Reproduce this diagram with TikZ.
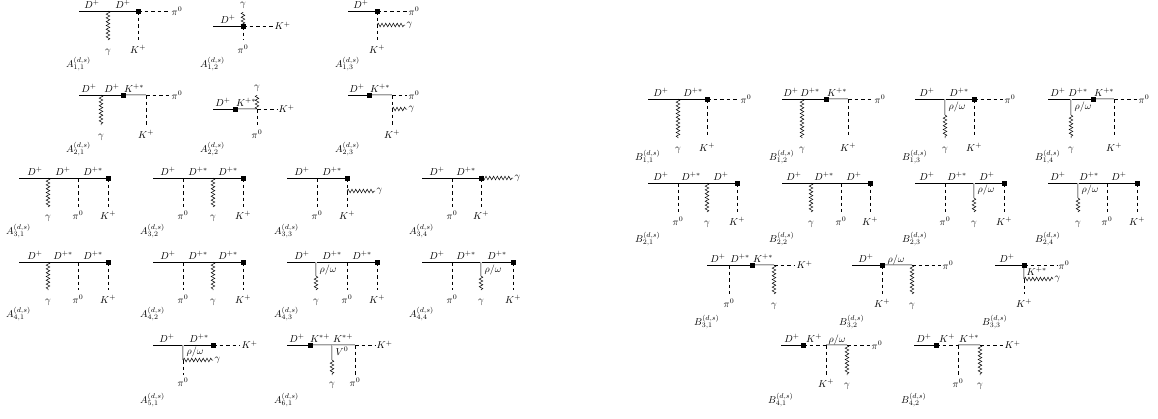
\documentclass[tikz,border=0pt]{standalone}
\usetikzlibrary{decorations.pathmorphing}
\begin{document}
\begin{tikzpicture}[x=1pt,y=-1pt,
fer/.style={line width=0.7pt},
vec/.style={draw=gray!75,double=gray!30,double distance=0.5pt,line width=0.45pt},
sca/.style={line width=0.6pt,dash pattern=on 3.5pt off 3pt},
pho/.style={line width=0.5pt,decorate,decoration={snake,amplitude=1.8pt,segment length=3.8pt}},
vtx/.style={rectangle,fill=black,inner sep=0pt,minimum size=5pt},
lab/.style={inner sep=1.5pt},
ttl/.style={inner sep=0pt,anchor=west}]
\useasboundingbox (0,0) rectangle (1158,418);

% A_{1,1}
\path (79,11) coordinate (a11s) (108,11) coordinate (a11p) (138,11) coordinate (a11w) (170,11) coordinate (a11e) (108,40) coordinate (a11g) (138,40) coordinate (a11k);
\draw[fer] (a11s) -- (a11w);
\draw[pho] (a11p) -- (a11g);
\draw[sca] (a11w) -- (a11e);
\draw[sca] (a11w) -- (a11k);
\node[vtx] (a11v) at (a11w) {};
\node[lab,anchor=base] (a11l1) at (92,8) {$D^+$};
\node[lab,anchor=base] (a11l2) at (123,8) {$D^+$};
\node[lab,anchor=west] (a11l3) at (a11e) {$\pi^0$};
\node[lab,anchor=base] (a11l4) at (108,53) {$\gamma$};
\node[lab,anchor=base] (a11l5) at (138,53) {$K^+$};
\node[ttl] (a11t) at (66,64) {$A^{(d,s)}_{1,1}$};

% A_{1,2}
\path (213,26) coordinate (a12s) (243,26) coordinate (a12w) (273,26) coordinate (a12e) (243,12) coordinate (a12g) (243,40) coordinate (a12k);
\draw[fer] (a12s) -- (a12w);
\draw[pho] (a12w) -- (a12g);
\draw[sca] (a12w) -- (a12e);
\draw[sca] (a12w) -- (a12k);
\node[vtx] (a12v) at (a12w) {};
\node[lab,anchor=base] (a12l1) at (228,23) {$D^+$};
\node[lab,anchor=base] (a12l2) at (243,6) {$\gamma$};
\node[lab,anchor=west] (a12l3) at (a12e) {$K^+$};
\node[lab,anchor=base] (a12l4) at (243,53) {$\pi^0$};
\node[ttl] (a12t) at (200,64) {$A^{(d,s)}_{1,2}$};

% A_{1,3}
\path (348,11) coordinate (a13s) (377,11) coordinate (a13w) (407,11) coordinate (a13e) (377,40) coordinate (a13k) (377,25) coordinate (a13m) (405,25) coordinate (a13g);
\draw[fer] (a13s) -- (a13w);
\draw[sca] (a13w) -- (a13e);
\draw[sca] (a13w) -- (a13k);
\draw[pho] (a13m) -- (a13g);
\node[vtx] (a13v) at (a13w) {};
\node[lab,anchor=base] (a13l1) at (361,8) {$D^+$};
\node[lab,anchor=west] (a13l2) at (a13e) {$\pi^0$};
\node[lab,anchor=west] (a13l3) at (a13g) {$\gamma$};
\node[lab,anchor=base] (a13l4) at (377,53) {$K^+$};
\node[ttl] (a13t) at (335,64) {$A^{(d,s)}_{1,3}$};

% A_{2,1}
\path (79,95) coordinate (a21s) (101,95) coordinate (a21p) (123,95) coordinate (a21w) (146,95) coordinate (a21q) (170,95) coordinate (a21e) (101,125) coordinate (a21g) (146,125) coordinate (a21k);
\draw[fer] (a21s) -- (a21w);
\draw[vec] (a21w) -- (a21q);
\draw[sca] (a21q) -- (a21e);
\draw[pho] (a21p) -- (a21g);
\draw[sca] (a21q) -- (a21k);
\node[vtx] (a21v) at (a21w) {};
\node[lab,anchor=base] (a21l1) at (89,92) {$D^+$};
\node[lab,anchor=base] (a21l2) at (112,92) {$D^+$};
\node[lab,anchor=base] (a21l3) at (134,92) {$K^{+*}$};
\node[lab,anchor=west] (a21l4) at (a21e) {$\pi^0$};
\node[lab,anchor=base] (a21l5) at (101,138) {$\gamma$};
\node[lab,anchor=base] (a21l6) at (146,138) {$K^+$};
\node[ttl] (a21t) at (66,149) {$A^{(d,s)}_{2,1}$};

% A_{2,2}
\path (213,109) coordinate (a22s) (235,109) coordinate (a22w) (257,109) coordinate (a22q) (277,109) coordinate (a22e) (257,95) coordinate (a22g) (257,125) coordinate (a22k);
\draw[fer] (a22s) -- (a22w);
\draw[vec] (a22w) -- (a22q);
\draw[sca] (a22q) -- (a22e);
\draw[pho] (a22q) -- (a22g);
\draw[sca] (a22q) -- (a22k);
\node[vtx] (a22v) at (a22w) {};
\node[lab,anchor=base] (a22l1) at (223,106) {$D^+$};
\node[lab,anchor=base] (a22l2) at (246,106) {$K^{+*}$};
\node[lab,anchor=base] (a22l3) at (257,89) {$\gamma$};
\node[lab,anchor=west] (a22l4) at (a22e) {$K^+$};
\node[lab,anchor=base] (a22l5) at (257,138) {$\pi^0$};
\node[ttl] (a22t) at (200,149) {$A^{(d,s)}_{2,2}$};

% A_{2,3}
\path (348,95) coordinate (a23s) (369,95) coordinate (a23w) (392,95) coordinate (a23q) (407,95) coordinate (a23e) (392,125) coordinate (a23k) (392,109) coordinate (a23m) (407,109) coordinate (a23g);
\draw[fer] (a23s) -- (a23w);
\draw[vec] (a23w) -- (a23q);
\draw[sca] (a23q) -- (a23e);
\draw[sca] (a23q) -- (a23k);
\draw[pho] (a23m) -- (a23g);
\node[vtx] (a23v) at (a23w) {};
\node[lab,anchor=base] (a23l1) at (357,92) {$D^+$};
\node[lab,anchor=base] (a23l2) at (380,92) {$K^{+*}$};
\node[lab,anchor=west] (a23l3) at (a23e) {$\pi^0$};
\node[lab,anchor=west] (a23l4) at (a23g) {$\gamma$};
\node[lab,anchor=base] (a23l5) at (392,138) {$K^+$};
\node[ttl] (a23t) at (335,149) {$A^{(d,s)}_{2,3}$};

% A_{3,1}
\path (19,178) coordinate (a31s) (48,178) coordinate (a31p) (78,178) coordinate (a31r) (108,178) coordinate (a31w) (48,207) coordinate (a31g) (78,207) coordinate (a31i) (108,207) coordinate (a31k);
\draw[fer] (a31s) -- (a31w);
\draw[pho] (a31p) -- (a31g);
\draw[sca] (a31r) -- (a31i);
\draw[sca] (a31w) -- (a31k);
\node[vtx] (a31v) at (a31w) {};
\node[lab,anchor=base] (a31l1) at (35,175) {$D^+$};
\node[lab,anchor=base] (a31l2) at (63,175) {$D^+$};
\node[lab,anchor=base] (a31l3) at (93,175) {$D^{+*}$};
\node[lab,anchor=base] (a31l4) at (48,219) {$\gamma$};
\node[lab,anchor=base] (a31l5) at (78,219) {$\pi^0$};
\node[lab,anchor=base] (a31l6) at (108,219) {$K^+$};
\node[ttl] (a31t) at (6,231) {$A^{(d,s)}_{3,1}$};

% A_{3,2}
\path (153,178) coordinate (a32s) (183,178) coordinate (a32p) (213,178) coordinate (a32r) (243,178) coordinate (a32w) (183,207) coordinate (a32i) (213,207) coordinate (a32g) (243,207) coordinate (a32k);
\draw[fer] (a32s) -- (a32w);
\draw[sca] (a32p) -- (a32i);
\draw[pho] (a32r) -- (a32g);
\draw[sca] (a32w) -- (a32k);
\node[vtx] (a32v) at (a32w) {};
\node[lab,anchor=base] (a32l1) at (168,175) {$D^+$};
\node[lab,anchor=base] (a32l2) at (198,175) {$D^{+*}$};
\node[lab,anchor=base] (a32l3) at (228,175) {$D^{+*}$};
\node[lab,anchor=base] (a32l4) at (183,219) {$\pi^0$};
\node[lab,anchor=base] (a32l5) at (213,219) {$\gamma$};
\node[lab,anchor=base] (a32l6) at (243,219) {$K^+$};
\node[ttl] (a32t) at (140,231) {$A^{(d,s)}_{3,2}$};

% A_{3,3}
\path (287,178) coordinate (a33s) (317,178) coordinate (a33p) (347,178) coordinate (a33w) (317,207) coordinate (a33i) (347,207) coordinate (a33k) (347,191) coordinate (a33m) (375,191) coordinate (a33g);
\draw[fer] (a33s) -- (a33w);
\draw[sca] (a33p) -- (a33i);
\draw[sca] (a33w) -- (a33k);
\draw[pho] (a33m) -- (a33g);
\node[vtx] (a33v) at (a33w) {};
\node[lab,anchor=base] (a33l1) at (302,175) {$D^+$};
\node[lab,anchor=base] (a33l2) at (332,175) {$D^{+*}$};
\node[lab,anchor=base] (a33l3) at (317,219) {$\pi^0$};
\node[lab,anchor=base] (a33l4) at (347,219) {$K^+$};
\node[lab,anchor=west] (a33l5) at (a33g) {$\gamma$};
\node[ttl] (a33t) at (274,231) {$A^{(d,s)}_{3,3}$};

% A_{3,4}
\path (422,178) coordinate (a34s) (452,178) coordinate (a34p) (481,178) coordinate (a34w) (513,178) coordinate (a34g) (452,207) coordinate (a34i) (481,207) coordinate (a34k);
\draw[fer] (a34s) -- (a34w);
\draw[sca] (a34p) -- (a34i);
\draw[sca] (a34w) -- (a34k);
\draw[pho] (a34w) -- (a34g);
\node[vtx] (a34v) at (a34w) {};
\node[lab,anchor=base] (a34l1) at (437,175) {$D^+$};
\node[lab,anchor=base] (a34l2) at (466,175) {$D^{+*}$};
\node[lab,anchor=base] (a34l3) at (452,219) {$\pi^0$};
\node[lab,anchor=base] (a34l4) at (481,219) {$K^+$};
\node[lab,anchor=west] (a34l5) at (a34g) {$\gamma$};
\node[ttl] (a34t) at (409,231) {$A^{(d,s)}_{3,4}$};

% A_{4,1}
\path (19,262) coordinate (a41s) (48,262) coordinate (a41p) (78,262) coordinate (a41r) (108,262) coordinate (a41w) (48,290) coordinate (a41g) (78,290) coordinate (a41i) (108,290) coordinate (a41k);
\draw[fer] (a41s) -- (a41w);
\draw[pho] (a41p) -- (a41g);
\draw[sca] (a41r) -- (a41i);
\draw[sca] (a41w) -- (a41k);
\node[vtx] (a41v) at (a41w) {};
\node[lab,anchor=base] (a41l1) at (35,259) {$D^+$};
\node[lab,anchor=base] (a41l2) at (63,259) {$D^{+*}$};
\node[lab,anchor=base] (a41l3) at (93,259) {$D^{+*}$};
\node[lab,anchor=base] (a41l4) at (48,303) {$\gamma$};
\node[lab,anchor=base] (a41l5) at (78,303) {$\pi^0$};
\node[lab,anchor=base] (a41l6) at (108,303) {$K^+$};
\node[ttl] (a41t) at (6,314) {$A^{(d,s)}_{4,1}$};

% A_{4,2}
\path (153,262) coordinate (a42s) (183,262) coordinate (a42p) (213,262) coordinate (a42r) (243,262) coordinate (a42w) (183,290) coordinate (a42i) (213,290) coordinate (a42g) (243,290) coordinate (a42k);
\draw[fer] (a42s) -- (a42w);
\draw[sca] (a42p) -- (a42i);
\draw[pho] (a42r) -- (a42g);
\draw[sca] (a42w) -- (a42k);
\node[vtx] (a42v) at (a42w) {};
\node[lab,anchor=base] (a42l1) at (168,259) {$D^+$};
\node[lab,anchor=base] (a42l2) at (198,259) {$D^{+*}$};
\node[lab,anchor=base] (a42l3) at (228,259) {$D^{+*}$};
\node[lab,anchor=base] (a42l4) at (183,303) {$\pi^0$};
\node[lab,anchor=base] (a42l5) at (213,303) {$\gamma$};
\node[lab,anchor=base] (a42l6) at (243,303) {$K^+$};
\node[ttl] (a42t) at (140,314) {$A^{(d,s)}_{4,2}$};

% A_{4,3}
\path (287,262) coordinate (a43s) (316,262) coordinate (a43r) (316,276) coordinate (a43m) (316,290) coordinate (a43g) (347,262) coordinate (a43p) (347,290) coordinate (a43i) (377,262) coordinate (a43w) (377,290) coordinate (a43k);
\draw[fer] (a43s) -- (a43w);
\draw[vec] (a43r) -- (a43m);
\draw[pho] (a43m) -- (a43g);
\draw[sca] (a43p) -- (a43i);
\draw[sca] (a43w) -- (a43k);
\node[vtx] (a43v) at (a43w) {};
\node[lab,anchor=base] (a43l1) at (302,259) {$D^+$};
\node[lab,anchor=base] (a43l2) at (332,259) {$D^{+*}$};
\node[lab,anchor=base] (a43l3) at (362,259) {$D^{+*}$};
\node[lab,anchor=base west] (a43l4) at (318,272) {$\rho/\omega$};
\node[lab,anchor=base] (a43l5) at (316,303) {$\gamma$};
\node[lab,anchor=base] (a43l6) at (347,303) {$\pi^0$};
\node[lab,anchor=base] (a43l7) at (377,303) {$K^+$};
\node[ttl] (a43t) at (274,314) {$A^{(d,s)}_{4,3}$};

% A_{4,4}
\path (422,262) coordinate (a44s) (452,262) coordinate (a44p) (481,262) coordinate (a44r) (481,276) coordinate (a44m) (481,290) coordinate (a44g) (452,290) coordinate (a44i) (513,262) coordinate (a44w) (513,290) coordinate (a44k);
\draw[fer] (a44s) -- (a44w);
\draw[sca] (a44p) -- (a44i);
\draw[vec] (a44r) -- (a44m);
\draw[pho] (a44m) -- (a44g);
\draw[sca] (a44w) -- (a44k);
\node[vtx] (a44v) at (a44w) {};
\node[lab,anchor=base] (a44l1) at (437,259) {$D^+$};
\node[lab,anchor=base] (a44l2) at (466,259) {$D^{+*}$};
\node[lab,anchor=base] (a44l3) at (497,259) {$D^{+*}$};
\node[lab,anchor=base west] (a44l4) at (483,272) {$\rho/\omega$};
\node[lab,anchor=base] (a44l5) at (452,303) {$\pi^0$};
\node[lab,anchor=base] (a44l6) at (481,303) {$\gamma$};
\node[lab,anchor=base] (a44l7) at (513,303) {$K^+$};
\node[ttl] (a44t) at (409,314) {$A^{(d,s)}_{4,4}$};

% A_{5,1}
\path (153,345) coordinate (a51s) (183,345) coordinate (a51r) (183,360) coordinate (a51m) (213,345) coordinate (a51w) (240,345) coordinate (a51e) (213,360) coordinate (a51g) (183,375) coordinate (a51i);
\draw[fer] (a51s) -- (a51w);
\draw[vec] (a51r) -- (a51m);
\draw[pho] (a51m) -- (a51g);
\draw[sca] (a51m) -- (a51i);
\draw[sca] (a51w) -- (a51e);
\node[vtx] (a51v) at (a51w) {};
\node[lab,anchor=base] (a51l1) at (167,342) {$D^+$};
\node[lab,anchor=base] (a51l2) at (199,342) {$D^{+*}$};
\node[lab,anchor=base west] (a51l3) at (185,354) {$\rho/\omega$};
\node[lab,anchor=west] (a51l4) at (a51g) {$\gamma$};
\node[lab,anchor=west] (a51l5) at (a51e) {$K^+$};
\node[lab,anchor=base] (a51l6) at (183,386) {$\pi^0$};
\node[ttl] (a51t) at (140,400) {$A^{(d,s)}_{5,1}$};

% A_{6,1}
\path (287,345) coordinate (a61s) (310,345) coordinate (a61w) (332,345) coordinate (a61r) (355,345) coordinate (a61q) (375,345) coordinate (a61e) (332,360) coordinate (a61m) (332,375) coordinate (a61g) (355,375) coordinate (a61i);
\draw[fer] (a61s) -- (a61w);
\draw[vec] (a61w) -- (a61q);
\draw[vec] (a61r) -- (a61m);
\draw[pho] (a61m) -- (a61g);
\draw[sca] (a61q) -- (a61e);
\draw[sca] (a61q) -- (a61i);
\node[vtx] (a61v) at (a61w) {};
\node[lab,anchor=base] (a61l1) at (297,342) {$D^+$};
\node[lab,anchor=base] (a61l2) at (320,342) {$K^{*+}$};
\node[lab,anchor=base] (a61l3) at (343,342) {$K^{*+}$};
\node[lab,anchor=base west] (a61l4) at (334,355) {$V^0$};
\node[lab,anchor=base] (a61l5) at (332,386) {$\gamma$};
\node[lab,anchor=base] (a61l6) at (355,386) {$\pi^0$};
\node[lab,anchor=west] (a61l7) at (a61e) {$K^+$};
\node[ttl] (a61t) at (274,400) {$A^{(d,s)}_{6,1}$};

% B_{1,1}
\path (648,99) coordinate (b11s) (678,99) coordinate (b11p) (707,99) coordinate (b11w) (739,99) coordinate (b11e) (678,138) coordinate (b11g) (707,138) coordinate (b11k);
\draw[fer] (b11s) -- (b11w);
\draw[pho] (b11p) -- (b11g);
\draw[sca] (b11w) -- (b11e);
\draw[sca] (b11w) -- (b11k);
\node[vtx] (b11v) at (b11w) {};
\node[lab,anchor=base] (b11l1) at (661,96) {$D^+$};
\node[lab,anchor=base] (b11l2) at (693,96) {$D^{+*}$};
\node[lab,anchor=west] (b11l3) at (b11e) {$\pi^0$};
\node[lab,anchor=base] (b11l4) at (678,151) {$\gamma$};
\node[lab,anchor=base] (b11l5) at (707,151) {$K^+$};
\node[ttl] (b11t) at (635,157) {$B^{(d,s)}_{1,1}$};

% B_{1,2}
\path (782,99) coordinate (b12s) (802,99) coordinate (b12p) (826,99) coordinate (b12w) (848,99) coordinate (b12q) (873,99) coordinate (b12e) (802,138) coordinate (b12g) (848,138) coordinate (b12k);
\draw[fer] (b12s) -- (b12w);
\draw[vec] (b12w) -- (b12q);
\draw[sca] (b12q) -- (b12e);
\draw[pho] (b12p) -- (b12g);
\draw[sca] (b12q) -- (b12k);
\node[vtx] (b12v) at (b12w) {};
\node[lab,anchor=base] (b12l1) at (791,96) {$D^+$};
\node[lab,anchor=base] (b12l2) at (810,96) {$D^{+*}$};
\node[lab,anchor=base] (b12l3) at (837,96) {$K^{+*}$};
\node[lab,anchor=west] (b12l4) at (b12e) {$\pi^0$};
\node[lab,anchor=base] (b12l5) at (802,151) {$\gamma$};
\node[lab,anchor=base] (b12l6) at (848,151) {$K^+$};
\node[ttl] (b12t) at (769,157) {$B^{(d,s)}_{1,2}$};

% B_{1,3}
\path (915,99) coordinate (b13s) (945,99) coordinate (b13r) (945,115) coordinate (b13m) (945,138) coordinate (b13g) (974,99) coordinate (b13w) (1003,99) coordinate (b13e) (974,138) coordinate (b13k);
\draw[fer] (b13s) -- (b13w);
\draw[vec] (b13r) -- (b13m);
\draw[pho] (b13m) -- (b13g);
\draw[sca] (b13w) -- (b13e);
\draw[sca] (b13w) -- (b13k);
\node[vtx] (b13v) at (b13w) {};
\node[lab,anchor=base] (b13l1) at (927,96) {$D^+$};
\node[lab,anchor=base] (b13l2) at (959,96) {$D^{+*}$};
\node[lab,anchor=base west] (b13l3) at (947,109) {$\rho/\omega$};
\node[lab,anchor=west] (b13l4) at (b13e) {$\pi^0$};
\node[lab,anchor=base] (b13l5) at (945,151) {$\gamma$};
\node[lab,anchor=base] (b13l6) at (974,151) {$K^+$};
\node[ttl] (b13t) at (902,157) {$B^{(d,s)}_{1,3}$};

% B_{1,4}
\path (1048,99) coordinate (b14s) (1071,99) coordinate (b14r) (1071,115) coordinate (b14m) (1071,138) coordinate (b14g) (1093,99) coordinate (b14w) (1114,99) coordinate (b14q) (1137,99) coordinate (b14e) (1114,138) coordinate (b14k);
\draw[fer] (b14s) -- (b14w);
\draw[vec] (b14r) -- (b14m);
\draw[pho] (b14m) -- (b14g);
\draw[vec] (b14w) -- (b14q);
\draw[sca] (b14q) -- (b14e);
\draw[sca] (b14q) -- (b14k);
\node[vtx] (b14v) at (b14w) {};
\node[lab,anchor=base] (b14l1) at (1058,96) {$D^+$};
\node[lab,anchor=base] (b14l2) at (1078,96) {$D^{+*}$};
\node[lab,anchor=base] (b14l3) at (1104,96) {$K^{+*}$};
\node[lab,anchor=base west] (b14l4) at (1073,109) {$\rho/\omega$};
\node[lab,anchor=west] (b14l5) at (b14e) {$\pi^0$};
\node[lab,anchor=base] (b14l6) at (1071,151) {$\gamma$};
\node[lab,anchor=base] (b14l7) at (1114,151) {$K^+$};
\node[ttl] (b14t) at (1035,157) {$B^{(d,s)}_{1,4}$};

% B_{2,1}
\path (648,183) coordinate (b21s) (678,183) coordinate (b21p) (707,183) coordinate (b21r) (737,183) coordinate (b21w) (678,212) coordinate (b21i) (707,212) coordinate (b21g) (737,212) coordinate (b21k);
\draw[fer] (b21s) -- (b21w);
\draw[sca] (b21p) -- (b21i);
\draw[pho] (b21r) -- (b21g);
\draw[sca] (b21w) -- (b21k);
\node[vtx] (b21v) at (b21w) {};
\node[lab,anchor=base] (b21l1) at (661,180) {$D^+$};
\node[lab,anchor=base] (b21l2) at (691,180) {$D^{+*}$};
\node[lab,anchor=base] (b21l3) at (721,180) {$D^+$};
\node[lab,anchor=base] (b21l4) at (678,225) {$\pi^0$};
\node[lab,anchor=base] (b21l5) at (707,225) {$\gamma$};
\node[lab,anchor=base] (b21l6) at (737,225) {$K^+$};
\node[ttl] (b21t) at (635,239) {$B^{(d,s)}_{2,1}$};

% B_{2,2}
\path (782,183) coordinate (b22s) (811,183) coordinate (b22p) (841,183) coordinate (b22r) (870,183) coordinate (b22w) (811,212) coordinate (b22g) (841,212) coordinate (b22i) (870,212) coordinate (b22k);
\draw[fer] (b22s) -- (b22w);
\draw[pho] (b22p) -- (b22g);
\draw[sca] (b22r) -- (b22i);
\draw[sca] (b22w) -- (b22k);
\node[vtx] (b22v) at (b22w) {};
\node[lab,anchor=base] (b22l1) at (794,180) {$D^+$};
\node[lab,anchor=base] (b22l2) at (824,180) {$D^{+*}$};
\node[lab,anchor=base] (b22l3) at (854,180) {$D^+$};
\node[lab,anchor=base] (b22l4) at (811,225) {$\gamma$};
\node[lab,anchor=base] (b22l5) at (841,225) {$\pi^0$};
\node[lab,anchor=base] (b22l6) at (870,225) {$K^+$};
\node[ttl] (b22t) at (769,239) {$B^{(d,s)}_{2,2}$};

% B_{2,3}
\path (915,183) coordinate (b23s) (945,183) coordinate (b23p) (974,183) coordinate (b23r) (974,198) coordinate (b23m) (974,212) coordinate (b23g) (1004,183) coordinate (b23w) (945,212) coordinate (b23i) (1004,212) coordinate (b23k);
\draw[fer] (b23s) -- (b23w);
\draw[sca] (b23p) -- (b23i);
\draw[vec] (b23r) -- (b23m);
\draw[pho] (b23m) -- (b23g);
\draw[sca] (b23w) -- (b23k);
\node[vtx] (b23v) at (b23w) {};
\node[lab,anchor=base] (b23l1) at (927,180) {$D^+$};
\node[lab,anchor=base] (b23l2) at (957,180) {$D^{+*}$};
\node[lab,anchor=base] (b23l3) at (987,180) {$D^+$};
\node[lab,anchor=base west] (b23l4) at (976,192) {$\rho/\omega$};
\node[lab,anchor=base] (b23l5) at (945,225) {$\pi^0$};
\node[lab,anchor=base] (b23l6) at (974,225) {$\gamma$};
\node[lab,anchor=base] (b23l7) at (1004,225) {$K^+$};
\node[ttl] (b23t) at (902,239) {$B^{(d,s)}_{2,3}$};

% B_{2,4}
\path (1048,183) coordinate (b24s) (1078,183) coordinate (b24r) (1078,198) coordinate (b24m) (1078,212) coordinate (b24g) (1107,183) coordinate (b24p) (1107,212) coordinate (b24i) (1137,183) coordinate (b24w) (1137,212) coordinate (b24k);
\draw[fer] (b24s) -- (b24w);
\draw[vec] (b24r) -- (b24m);
\draw[pho] (b24m) -- (b24g);
\draw[sca] (b24p) -- (b24i);
\draw[sca] (b24w) -- (b24k);
\node[vtx] (b24v) at (b24w) {};
\node[lab,anchor=base] (b24l1) at (1058,180) {$D^+$};
\node[lab,anchor=base] (b24l2) at (1089,180) {$D^{+*}$};
\node[lab,anchor=base] (b24l3) at (1119,180) {$D^+$};
\node[lab,anchor=base west] (b24l4) at (1080,192) {$\rho/\omega$};
\node[lab,anchor=base] (b24l5) at (1078,225) {$\gamma$};
\node[lab,anchor=base] (b24l6) at (1107,225) {$\pi^0$};
\node[lab,anchor=base] (b24l7) at (1137,225) {$K^+$};
\node[ttl] (b24t) at (1035,239) {$B^{(d,s)}_{2,4}$};

% B_{3,1}
\path (707,265) coordinate (b31s) (729,265) coordinate (b31p) (752,265) coordinate (b31w) (774,265) coordinate (b31q) (795,265) coordinate (b31e) (729,294) coordinate (b31i) (774,294) coordinate (b31g);
\draw[fer] (b31s) -- (b31w);
\draw[vec] (b31w) -- (b31q);
\draw[sca] (b31q) -- (b31e);
\draw[sca] (b31p) -- (b31i);
\draw[pho] (b31q) -- (b31g);
\node[vtx] (b31v) at (b31w) {};
\node[lab,anchor=base] (b31l1) at (718,262) {$D^+$};
\node[lab,anchor=base] (b31l2) at (740,262) {$D^{+*}$};
\node[lab,anchor=base] (b31l3) at (763,262) {$K^{+*}$};
\node[lab,anchor=west] (b31l4) at (b31e) {$K^+$};
\node[lab,anchor=base] (b31l5) at (729,307) {$\pi^0$};
\node[lab,anchor=base] (b31l6) at (774,307) {$\gamma$};
\node[ttl] (b31t) at (694,322) {$B^{(d,s)}_{3,1}$};

% B_{3,2}
\path (852,265) coordinate (b32s) (882,265) coordinate (b32w) (912,265) coordinate (b32q) (941,265) coordinate (b32e) (882,294) coordinate (b32k) (912,294) coordinate (b32g);
\draw[fer] (b32s) -- (b32w);
\draw[vec] (b32w) -- (b32q);
\draw[sca] (b32q) -- (b32e);
\draw[sca] (b32w) -- (b32k);
\draw[pho] (b32q) -- (b32g);
\node[vtx] (b32v) at (b32w) {};
\node[lab,anchor=base] (b32l1) at (866,262) {$D^+$};
\node[lab,anchor=base] (b32l2) at (896,262) {$\rho/\omega$};
\node[lab,anchor=west] (b32l3) at (b32e) {$\pi^0$};
\node[lab,anchor=base] (b32l4) at (882,307) {$K^+$};
\node[lab,anchor=base] (b32l5) at (912,307) {$\gamma$};
\node[ttl] (b32t) at (839,322) {$B^{(d,s)}_{3,2}$};

% B_{3,3}
\path (995,265) coordinate (b33s) (1024,265) coordinate (b33w) (1057,265) coordinate (b33e) (1024,279) coordinate (b33m) (1024,294) coordinate (b33k) (1053,279) coordinate (b33g);
\draw[fer] (b33s) -- (b33w);
\draw[sca] (b33w) -- (b33e);
\draw[vec] (b33w) -- (b33m);
\draw[sca] (b33m) -- (b33k);
\draw[pho] (b33m) -- (b33g);
\node[vtx] (b33v) at (b33w) {};
\node[lab,anchor=base] (b33l1) at (1007,262) {$D^+$};
\node[lab,anchor=base west] (b33l2) at (1025,275) {$K^{+*}$};
\node[lab,anchor=west] (b33l3) at (b33e) {$\pi^0$};
\node[lab,anchor=west] (b33l4) at (b33g) {$\gamma$};
\node[lab,anchor=base] (b33l5) at (1024,307) {$K^+$};
\node[ttl] (b33t) at (982,322) {$B^{(d,s)}_{3,3}$};

% B_{4,1}
\path (781,345) coordinate (b41s) (803,345) coordinate (b41w) (826,345) coordinate (b41q) (847,345) coordinate (b41r) (870,345) coordinate (b41e) (826,375) coordinate (b41k) (847,375) coordinate (b41g);
\draw[fer] (b41s) -- (b41w);
\draw[sca] (b41w) -- (b41q);
\draw[vec] (b41q) -- (b41r);
\draw[sca] (b41r) -- (b41e);
\draw[sca] (b41q) -- (b41k);
\draw[pho] (b41r) -- (b41g);
\node[vtx] (b41v) at (b41w) {};
\node[lab,anchor=base] (b41l1) at (792,342) {$D^+$};
\node[lab,anchor=base] (b41l2) at (814,342) {$K^+$};
\node[lab,anchor=base] (b41l3) at (837,342) {$\rho/\omega$};
\node[lab,anchor=west] (b41l4) at (b41e) {$\pi^0$};
\node[lab,anchor=base] (b41l5) at (826,387) {$K^+$};
\node[lab,anchor=base] (b41l6) at (847,387) {$\gamma$};
\node[ttl] (b41t) at (768,400) {$B^{(d,s)}_{4,1}$};

% B_{4,2}
\path (914,345) coordinate (b42s) (936,345) coordinate (b42w) (958,345) coordinate (b42q) (980,345) coordinate (b42r) (1003,345) coordinate (b42e) (958,375) coordinate (b42i) (980,375) coordinate (b42g);
\draw[fer] (b42s) -- (b42w);
\draw[sca] (b42w) -- (b42q);
\draw[vec] (b42q) -- (b42r);
\draw[sca] (b42r) -- (b42e);
\draw[sca] (b42q) -- (b42i);
\draw[pho] (b42r) -- (b42g);
\node[vtx] (b42v) at (b42w) {};
\node[lab,anchor=base] (b42l1) at (924,342) {$D^+$};
\node[lab,anchor=base] (b42l2) at (947,342) {$K^+$};
\node[lab,anchor=base] (b42l3) at (969,342) {$K^{+*}$};
\node[lab,anchor=west] (b42l4) at (b42e) {$K^+$};
\node[lab,anchor=base] (b42l5) at (958,387) {$\pi^0$};
\node[lab,anchor=base] (b42l6) at (980,387) {$\gamma$};
\node[ttl] (b42t) at (901,400) {$B^{(d,s)}_{4,2}$};

\end{tikzpicture}
\end{document}
